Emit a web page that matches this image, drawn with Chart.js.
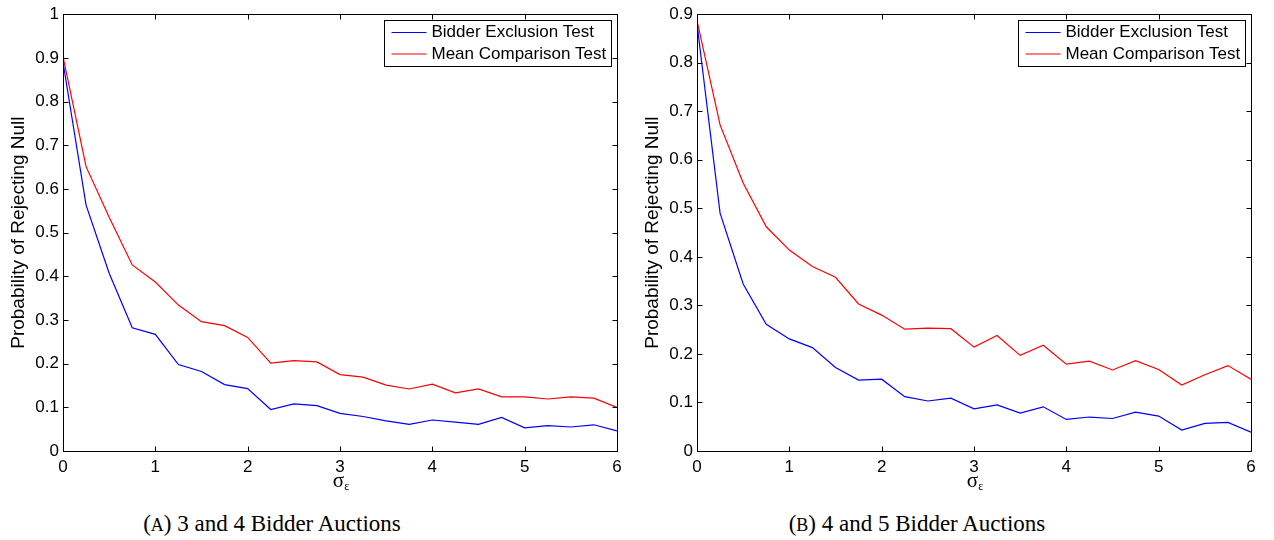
<!DOCTYPE html>
<html>
<head>
<meta charset="utf-8">
<script src="https://cdn.jsdelivr.net/npm/chart.js@4.4.0/dist/chart.umd.min.js"></script>
<style>
  html, body { margin: 0; padding: 0; background: #fff; }
  body { width: 1274px; height: 540px; position: relative; overflow: hidden; }
  .panel { position: absolute; top: 0; width: 637px; height: 500px; }
  .xlab {
    position: absolute; top: 470px; width: 60px; text-align: center;
    font-family: 'Liberation Serif', serif; font-size: 21px; line-height: 20px; color: #000;
  }
  .xlab span { font-size: 12px; position: relative; top: 3px; }
  .caption {
    position: absolute; top: 512px; width: 400px; text-align: center;
    font-family: 'Liberation Serif', serif; font-size: 23px; line-height: 23px; color: #000;
  }
  .caption .sc { font-size: 0.78em; }
</style>
</head>
<body>
<div class="panel" style="left:0"><canvas id="chartA" width="637" height="500"></canvas></div>
<div class="panel" style="left:634px"><canvas id="chartB" width="637" height="500"></canvas></div>
<div class="xlab" style="left:311px">σ<span>ε</span></div>
<div class="xlab" style="left:945px">σ<span>ε</span></div>
<div class="caption" style="left:72px">(<span class="sc">A</span>) 3 and 4 Bidder Auctions</div>
<div class="caption" style="left:717px">(<span class="sc">B</span>) 4 and 5 Bidder Auctions</div>

<script>
// ─── DONNÉES ─────────────────────────────────────────────────────────────
const sigma = [0, 0.25, 0.5, 0.75, 1, 1.25, 1.5, 1.75, 2, 2.25, 2.5, 2.75, 3,
               3.25, 3.5, 3.75, 4, 4.25, 4.5, 4.75, 5, 5.25, 5.5, 5.75, 6];

// (A) 3 and 4 bidder auctions
const bidderA = [0.89, 0.563, 0.407, 0.282, 0.267, 0.198, 0.182, 0.152, 0.143, 0.095, 0.108, 0.104, 0.086,
                 0.079, 0.069, 0.061, 0.071, 0.066, 0.061, 0.077, 0.053, 0.058, 0.055, 0.060, 0.046];
const meanA   = [0.903, 0.651, 0.535, 0.426, 0.387, 0.334, 0.296, 0.287, 0.260, 0.201, 0.207, 0.204, 0.175,
                 0.169, 0.151, 0.142, 0.153, 0.133, 0.142, 0.124, 0.124, 0.119, 0.124, 0.121, 0.100];

// (B) 4 and 5 bidder auctions
const bidderB = [0.88, 0.490, 0.344, 0.261, 0.231, 0.213, 0.172, 0.146, 0.148, 0.112, 0.103, 0.109, 0.087,
                 0.095, 0.078, 0.091, 0.065, 0.070, 0.067, 0.080, 0.072, 0.043, 0.057, 0.059, 0.039];
const meanB   = [0.887, 0.672, 0.552, 0.462, 0.414, 0.380, 0.358, 0.303, 0.280, 0.251, 0.253, 0.252, 0.214,
                 0.238, 0.197, 0.218, 0.179, 0.185, 0.167, 0.186, 0.168, 0.136, 0.157, 0.176, 0.148];

const xTicks  = ['0', '1', '2', '3', '4', '5', '6'];
const yTicksA = ['0', '0.1', '0.2', '0.3', '0.4', '0.5', '0.6', '0.7', '0.8', '0.9', '1'];
const yTicksB = ['0', '0.1', '0.2', '0.3', '0.4', '0.5', '0.6', '0.7', '0.8', '0.9'];

const seriesNames = ['Bidder Exclusion Test', 'Mean Comparison Test'];
const sansFont = "'Liberation Sans', Arial, sans-serif";

// ─── CADRE STYLE MATLAB (boîte, ticks vers l'intérieur, légende encadrée) ──
const matlabFrame = {
    id: 'matlabFrame',
    afterDraw(chart) {
        const { ctx, chartArea: a, scales: { x, y } } = chart;
        const L = Math.round(a.left) + 0.5, R = Math.round(a.right) + 0.5;
        const T = Math.round(a.top) + 0.5, B = Math.round(a.bottom) + 0.5;
        ctx.save();
        ctx.strokeStyle = '#000';
        ctx.lineWidth = 1;
        ctx.beginPath();
        x.ticks.forEach(t => {
            const px = Math.round(x.getPixelForValue(t.value)) + 0.5;
            ctx.moveTo(px, B); ctx.lineTo(px, B - 5);
            ctx.moveTo(px, T); ctx.lineTo(px, T + 5);
        });
        y.ticks.forEach(t => {
            const py = Math.round(y.getPixelForValue(t.value)) + 0.5;
            ctx.moveTo(L, py); ctx.lineTo(L + 5, py);
            ctx.moveTo(R, py); ctx.lineTo(R - 5, py);
        });
        ctx.stroke();
        ctx.strokeRect(L, T, R - L, B - T);

        // légende
        ctx.font = '17px ' + sansFont;
        const ds = chart.data.datasets;
        const textW = Math.max(...ds.map(d => ctx.measureText(d.label).width));
        const w = Math.round(47 + textW + 5), h = 46;
        const bx = R - 6 - w, by = T + 6;
        ctx.fillStyle = '#fff';
        ctx.fillRect(bx, by, w, h);
        ctx.strokeRect(bx, by, w, h);
        ds.forEach((d, i) => {
            const cy = by + 12 + i * 21.5;
            ctx.strokeStyle = d.borderColor;
            ctx.lineWidth = 1.2;
            ctx.beginPath();
            ctx.moveTo(bx + 7, cy); ctx.lineTo(bx + 42, cy);
            ctx.stroke();
            ctx.fillStyle = '#000';
            ctx.textBaseline = 'middle';
            ctx.fillText(d.label, bx + 47, cy);
        });
        ctx.restore();
    }
};

function makeChart(id, bidder, mean, yMax, yTicks) {
    const toPts = arr => arr.map((v, i) => ({ x: sigma[i], y: v }));
    return new Chart(document.getElementById(id), {
        type: 'line',
        data: {
            datasets: [
                { label: seriesNames[0], data: toPts(bidder), borderColor: '#0000ff', borderWidth: 1.2,
                  pointRadius: 0, tension: 0, fill: false },
                { label: seriesNames[1], data: toPts(mean), borderColor: '#ff0000', borderWidth: 1.2,
                  pointRadius: 0, tension: 0, fill: false }
            ]
        },
        options: {
            responsive: false,
            animation: false,
            layout: { padding: { top: 14, right: 20, left: 0, bottom: 0 } },
            plugins: { legend: { display: false }, tooltip: { enabled: false } },
            scales: {
                x: {
                    type: 'linear', min: 0, max: 6,
                    grid: { display: false, drawTicks: false },
                    border: { display: false },
                    ticks: {
                        stepSize: 1, padding: 6, color: '#000', maxRotation: 0,
                        font: { family: sansFont, size: 17 },
                        callback: (v, i) => xTicks[i]
                    },
                    afterFit: s => { s.height = 49; }
                },
                y: {
                    min: 0, max: yMax,
                    grid: { display: false, drawTicks: false },
                    border: { display: false },
                    ticks: {
                        stepSize: 0.1, padding: 4, color: '#000',
                        font: { family: sansFont, size: 17 },
                        callback: (v, i) => yTicks[i]
                    },
                    title: {
                        display: true, text: 'Probability of Rejecting Null', color: '#000',
                        font: { family: sansFont, size: 19 }, padding: { top: 7, bottom: 0 }
                    },
                    afterFit: s => { s.width = 63; }
                }
            }
        },
        plugins: [matlabFrame]
    });
}

makeChart('chartA', bidderA, meanA, 1, yTicksA);
makeChart('chartB', bidderB, meanB, 0.9, yTicksB);
</script>
</body>
</html>
